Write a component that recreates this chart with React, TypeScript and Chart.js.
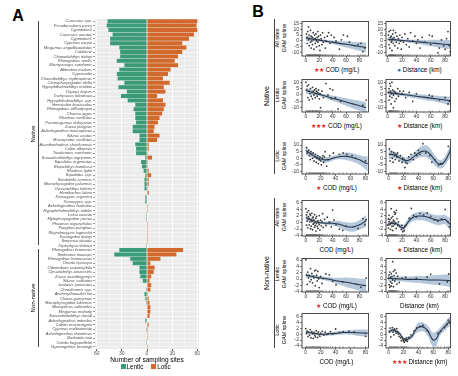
import React, { useEffect, useRef } from 'react';
import { Chart, registerables } from 'chart.js';

Chart.register(...registerables);

const FONT = "'Liberation Sans', Arial, Helvetica, sans-serif";
const GREEN = '#3b9a78';
const ORANGE = '#d2682b';
const BAND = '#b5c7db';
const STAR = '#e3231b';
const DOT = '#2a6fb8';

// ---------------- Panel A data ----------------
const nativeSpecies = [
  'Carassius spp.', 'Pseudorasbora parva', 'Cyprinidae2', 'Carassius auratus', 'Cyprinidae1',
  'Cyprinus carpio', 'Misgurnus anguillicaudatus', 'Cobitinae', 'Chanodichthys dabryi', 'Rhinogobius similis',
  'Micropercops swinhonis', 'Abbottina rivularis', 'Cyprinoidei', 'Chanodichthys erythropterus', 'Ctenopharyngodon idella',
  'Hypophthalmichthys molitrix', 'Oryzias latipes', 'Tachysurus fulvidraco', 'Hypophthalmichthys spp.', 'Hemiculter leucisculus',
  'Rhinogobius cliffordpopei', 'Channa argus', 'Rhodeus ocellatus', 'Paramisgurnus dabryanus', 'Zacco platypus',
  'Acheilognathus macropterus', 'Silurus asotus', 'Macropodus ocellatus', 'Acanthorhodeus chankaensis', 'Culter alburnus',
  'Toxabramis swinhonis', 'Sarcocheilichthys nigripinnis', 'Squalidus argentatus', 'Elopichthys bambusa', 'Rhodeus lighti',
  'Squalidus spp.', 'Sinobdella sinensis', 'Microphysogobio yaluensis', 'Opsariichthys bidens', 'Hemibarbus labeo',
  'Xenocypris argentea', 'Xenocypris spp.', 'Acheilognathus barbatus', 'Hypophthalmichthys nobilis', 'Lefua costata',
  'Mylopharyngodon piceus', 'Phoxinus oxycephalus', 'Pungitius pungitius', 'Rhynchocypris lagowskii', 'Saurogobio dabryi',
  'Siniperca chuatsi', 'Triplophysa dalaica',
];
const nativeLentic = [47, 48, 46, 41, 44, 44, 33, 32, 32, 36, 27, 33, 36, 35, 27, 34, 24, 31, 23, 14, 16, 14, 14, 13, 17, 17, 9, 9, 14, 13, 13, 2, 7, 6, 4, 2, 3, 3, 3, 0, 2, 2, 0, 0, 1, 1, 0, 0, 0, 0, 0, 1];
const nativeLotic = [60, 59, 60, 56, 50, 42, 47, 42, 37, 33, 37, 28, 25, 19, 27, 20, 22, 12, 19, 22, 20, 18, 15, 13, 9, 8, 15, 12, 2, 2, 1, 6, 1, 1, 2, 5, 2, 2, 1, 2, 0, 0, 1, 1, 0, 0, 1, 1, 1, 1, 1, 0];

const nonNativeSpecies = [
  'Rhinogobius brunneus', 'Sinibrama macrops', 'Rhinogobius formosanus', 'Onoda episcopa', 'Odontobutis potamophila',
  'Opsariichthys uncirostris', 'Zacco acanthogenys', 'Silurus soldatovi', 'Ictalurus punctatus', 'Oreochromis spp.',
  'Ancherythroculter lini', 'Clarias gariepinus', 'Microphysogobio fukiensis', 'Micropterus salmoides', 'Misgurnus mohoity',
  'Sarcocheilichthys davidi', 'Acheilognathus imberbis', 'Cobitis macrostigma', 'Cyprinus multitaeniata', 'Acheilognathus rhombeus',
  'Barbatula toni', 'Cobitis hugowolfeldi', 'Gymnogobius breunigii',
];
const nonNativeLentic = [33, 39, 20, 17, 9, 9, 8, 5, 0, 1, 3, 2, 1, 0, 0, 0, 2, 0, 1, 0, 0, 1, 0];
const nonNativeLotic = [43, 35, 16, 4, 9, 8, 5, 3, 5, 4, 1, 2, 3, 4, 4, 3, 0, 2, 1, 1, 1, 0, 1];

// ---------------- Panel B data ----------------
const grid90 = [0, 10, 20, 30, 40, 50, 60, 70, 80, 90];
const grid88 = [0, 10, 20, 30, 40, 50, 60, 70, 80, 88];

// Native, all sites, COD
const natAllCodPts = [[1,6],[2,3],[2,-2],[3,8],[4,12],[4,1],[5,-4],[5,5],[6,2],[7,-1],[7,9],[8,4],[8,-6],[9,0],[10,3],[10,-3],[11,7],[12,1],[12,-7],[13,5],[14,2],[14,-2],[15,6],[16,0],[16,-5],[17,3],[18,8],[18,-1],[19,4],[20,-4],[20,1],[21,-8],[22,5],[23,2],[24,-3],[25,7],[26,-1],[28,3],[29,-6],[30,0],[32,4],[34,7],[36,-2],[38,5],[40,-1],[42,3],[45,0],[50,-7],[53,1],[56,5],[62,4],[65,-1],[78,-3],[82,-2],[85,-9],[88,-6]];
const natAllCodFit = [2.5, 1.6, 0.7, -0.2, -1.1, -2.0, -2.8, -3.7, -4.6, -5.5];
const natAllCodLo = [0.3, -0.3, -0.5, -1.4, -2.6, -4.0, -5.4, -6.8, -8.3, -9.8];
const natAllCodHi = [4.7, 3.5, 1.9, 1.0, 0.4, 0.0, -0.3, -0.6, -0.9, -1.2];

// Native, all sites, Distance
const natAllDistPts = [[1,5],[2,-3],[2,8],[3,1],[3,-6],[4,3],[4,9],[5,-1],[5,4],[6,0],[6,-8],[7,6],[7,2],[8,-2],[8,9],[9,3],[10,-4],[10,1],[11,7],[12,-1],[13,4],[14,-6],[15,2],[16,-2],[17,5],[18,0],[19,-7],[20,3],[22,-1],[24,6],[26,-3],[28,2],[30,-5],[32,7],[35,0],[38,4],[40,-2],[42,1],[45,-6],[48,3],[52,-1],[58,5],[60,-3],[62,4],[66,-2],[70,-10],[72,-6],[75,1],[78,-4],[80,-7],[82,2],[84,8],[86,-4],[87,-9]];
const natAllDistFit = [1.5, 1.0, 0.4, -0.1, -0.7, -1.2, -1.7, -2.2, -2.8, -3.2];
const natAllDistLo = [-0.3, -0.4, -0.7, -1.4, -2.4, -3.4, -4.4, -5.4, -6.4, -7.2];
const natAllDistHi = [3.3, 2.4, 1.5, 1.2, 1.0, 1.0, 1.0, 1.0, 0.8, 0.8];

// Native, lentic, COD
const natLenCodPts = [[0,10],[1,4],[2,7],[3,-2],[4,8],[5,3],[5,-4],[6,1],[7,5],[8,-1],[9,2],[10,6],[10,-3],[11,3],[12,0],[13,4],[14,-2],[15,5],[15,1],[16,3],[17,-1],[18,2],[19,4],[20,-3],[21,1],[22,-10],[24,3],[26,-2],[30,9],[33,0],[36,5],[38,-3],[40,4],[44,-2],[48,-11],[52,-5],[85,-8],[90,-4]];
const natLenCodFit = [3.5, 2.0, 0.5, -1.0, -2.5, -4.0, -5.5, -7.0, -8.5, -10.0];
const natLenCodLo = [1.0, 0.2, -0.8, -2.5, -4.5, -6.5, -8.5, -10.5, -12.5, -14.5];
const natLenCodHi = [6.0, 3.8, 1.8, 0.5, -0.5, -1.5, -2.5, -3.5, -4.5, -5.5];

// Native, lentic, Distance
const natLenDistPts = [[1,2],[2,-4],[2,5],[3,9],[3,-1],[4,7],[4,3],[5,-7],[5,1],[6,10],[6,-2],[7,4],[8,0],[8,-10],[9,3],[10,-5],[11,2],[12,-3],[13,1],[14,5],[15,-1],[17,3],[20,1],[22,3],[25,-2],[30,2],[35,-5],[40,1],[58,0],[62,-1],[72,-4],[80,-2],[84,-7],[86,-5]];
const natLenDistFit = [2.0, 1.3, 0.5, -0.2, -1.0, -1.7, -2.5, -3.2, -4.0, -4.6];
const natLenDistLo = [0.0, -0.3, -0.8, -1.8, -2.8, -3.8, -4.8, -5.8, -7.0, -8.0];
const natLenDistHi = [4.0, 2.9, 1.8, 1.4, 0.8, 0.4, -0.2, -0.6, -1.0, -1.2];

// Native, lotic, COD
const natLotCodPts = [[1,8],[2,4],[4,6],[5,2],[6,-1],[7,5],[8,3],[9,0],[10,4],[11,-2],[12,1],[13,3],[14,-3],[15,0],[16,2],[17,-4],[18,-1],[19,1],[20,-2],[21,-5],[22,0],[23,2],[24,-3],[25,1],[26,5],[28,-6],[30,-1],[32,2],[37,4],[45,3],[50,4],[55,3],[62,2],[67,0],[80,-2]];
const natLotCodX = [0, 5, 10, 15, 20, 25, 30, 35, 40, 45, 50, 55, 60, 65, 70, 75, 80, 83];
const natLotCodFit = [6.0, 4.0, 2.2, 0.5, -0.6, -1.2, -1.0, -0.2, 0.6, 1.2, 1.5, 1.4, 1.0, 0.2, -0.8, -2.0, -3.5, -4.2];
const natLotCodLo = [2.5, 1.5, 0.3, -1.2, -2.5, -3.3, -3.0, -2.0, -1.0, -0.8, -1.0, -1.5, -2.0, -3.0, -4.3, -6.0, -8.5, -10.0];
const natLotCodHi = [9.5, 6.5, 4.1, 2.2, 1.3, 0.9, 1.0, 1.6, 2.2, 3.2, 4.0, 4.3, 4.0, 3.4, 2.7, 2.0, 1.5, 1.5];

// Native, lotic, Distance
const natLotDistPts = [[1,7],[2,-2],[3,3],[4,5],[5,0],[6,-3],[7,4],[8,2],[9,-1],[10,3],[11,1],[12,4],[14,-2],[16,2],[18,-3],[19,0],[21,-1],[22,-7],[23,-3],[25,-4],[27,1],[30,3],[33,-1],[35,4],[38,2],[40,6],[42,3],[46,11],[50,4],[55,2],[58,-3],[62,-1],[67,-5],[70,-4],[72,-4],[80,9]];
const natLotDistX = [0, 5, 10, 15, 20, 25, 30, 35, 40, 45, 50, 55, 60, 65, 70, 75, 80, 84];
const natLotDistFit = [3.0, 2.8, 2.0, 0.3, -1.3, -1.8, -0.5, 1.8, 3.8, 5.2, 5.3, 3.5, 0.0, -3.5, -4.6, -2.5, 2.5, 7.5];
const natLotDistLo = [-1.0, 0.0, -0.3, -1.8, -3.5, -4.3, -3.2, -1.2, 0.3, 1.0, 0.8, -1.0, -4.0, -7.0, -7.8, -5.8, -1.5, 2.0];
const natLotDistHi = [7.0, 5.6, 4.3, 2.4, 0.9, 0.7, 2.2, 4.8, 7.3, 9.4, 9.8, 8.0, 4.0, 0.0, -1.4, 0.8, 6.5, 13.0];

// Non-native, all sites, COD
const nnAllCodPts = [[0,4.2],[1,2.3],[1,-0.8],[2,3.1],[2,0.4],[3,1.2],[3,-1.6],[4,1.8],[4,3.6],[5,-0.7],[5,1.1],[6,2.6],[6,0.2],[7,-1.9],[7,2.2],[8,0.9],[8,-1.1],[9,0.3],[9,2.8],[10,-2.2],[10,1.4],[11,1.7],[11,-0.5],[12,-0.2],[12,0.8],[13,-1.4],[13,2.4],[14,-0.9],[14,0.1],[15,1.3],[15,-2.6],[16,-0.3],[16,1.9],[17,-1.2],[18,0.6],[18,-1.8],[19,0.0],[20,2.1],[20,-0.6],[21,-2.3],[22,0.7],[23,-1.0],[24,0.3],[25,2.7],[26,-1.5],[28,1.0],[30,-0.9],[32,1.6],[35,0.2],[38,-1.3],[40,3.8],[42,0.8],[45,-0.7],[50,-2.0],[55,-2.4],[60,-1.1],[78,-1.8],[85,1.2],[88,-0.6],[90,0.9]];
const nnAllCodFit = [1.5, 0.6, 0.0, -0.2, -0.2, -0.5, -1.2, -1.4, -0.7, 0.6];
const nnAllCodLo = [0.6, 0.1, -0.4, -0.7, -0.9, -1.5, -2.5, -2.8, -2.2, -1.2];
const nnAllCodHi = [2.4, 1.1, 0.4, 0.3, 0.5, 0.5, 0.1, 0.0, 0.8, 2.4];

// Non-native, all sites, Distance
const nnAllDistPts = [[0,-0.8],[1,1.1],[1,-1.7],[2,0.3],[2,2.2],[3,-0.6],[3,0.9],[4,-0.2],[4,-2.1],[5,4.2],[5,1.4],[6,-1.2],[6,0.1],[7,1.8],[7,-2.4],[8,0.7],[8,-1.0],[9,0.4],[9,3.2],[10,-0.5],[10,2.5],[11,-0.1],[11,2.9],[12,-1.8],[12,3.7],[13,1.2],[14,-0.9],[15,0.2],[17,-1.3],[19,-2.1],[20,-0.8],[21,-2.8],[22,-1.6],[23,-2.5],[24,-1.1],[26,-0.7],[30,1.3],[33,4.3],[36,2.2],[40,1.7],[45,2.8],[50,2.3],[55,2.9],[60,1.9],[65,0.8],[70,0.4],[75,1.1],[80,4.0],[84,0.2],[86,-1.3]];
const nnAllDistX = [0, 5, 10, 15, 20, 22, 25, 30, 35, 40, 45, 50, 55, 60, 65, 70, 75, 80, 85, 88];
const nnAllDistFit = [-0.5, -0.3, -0.2, -0.7, -1.6, -1.7, -0.9, 0.6, 1.5, 1.9, 2.0, 1.9, 1.7, 1.3, 1.0, 0.7, 0.8, 0.9, -0.1, -0.7];
const nnAllDistLo = [-1.2, -0.8, -0.7, -1.3, -2.4, -2.6, -1.8, -0.4, 0.4, 0.7, 0.7, 0.6, 0.3, -0.1, -0.5, -0.8, -0.6, -0.5, -1.8, -2.6];
const nnAllDistHi = [0.2, 0.2, 0.3, -0.1, -0.8, -0.8, 0.0, 1.6, 2.6, 3.1, 3.3, 3.3, 3.1, 2.7, 2.4, 2.2, 2.2, 2.3, 1.6, 1.2];

// Non-native, lentic, COD
const nnLenCodPts = [[0,6.1],[1,1.3],[2,-1.7],[3,2.2],[4,0.3],[5,1.1],[6,-0.8],[7,3.3],[8,-0.2],[9,1.8],[10,-1.2],[11,0.9],[12,0.4],[13,2.6],[14,-2.1],[15,2.8],[16,1.2],[17,-0.6],[18,2.4],[19,0.1],[20,-2.7],[22,0.8],[24,-1.4],[26,0.2],[30,1.6],[35,1.3],[40,-0.7],[45,-1.8],[55,-0.9],[82,-2.6],[90,0.3]];
const nnLenCodFit = [1.2, 0.8, 0.4, 0.1, -0.3, -0.7, -1.0, -1.4, -1.8, -2.1];
const nnLenCodLo = [0.4, 0.2, -0.1, -0.5, -1.1, -1.8, -2.5, -3.1, -3.7, -4.3];
const nnLenCodHi = [2.0, 1.4, 0.9, 0.7, 0.5, 0.4, 0.5, 0.3, 0.1, 0.1];

// Non-native, lentic, Distance
const nnLenDistPts = [[1,0.2],[2,-1.8],[2,1.3],[3,2.2],[3,-2.6],[4,0.5],[4,-0.9],[5,1.7],[5,-2.2],[6,0.8],[6,-1.3],[7,5.5],[7,-0.3],[8,-2.4],[8,2.4],[9,1.1],[10,-0.7],[10,2.9],[11,0.1],[12,1.9],[13,-1.6],[14,0.9],[16,-1.1],[20,0.3],[25,0.6],[40,0.2],[55,0.6],[60,1.5],[72,-1.5],[83,-0.9],[85,1.6]];
const nnLenDistFit = [0.2, 0.1, 0.0, -0.1, -0.1, -0.2, -0.3, -0.3, -0.4, -0.5];
const nnLenDistLo = [-0.6, -0.6, -0.8, -1.0, -1.2, -1.4, -1.7, -1.9, -2.2, -2.5];
const nnLenDistHi = [1.0, 0.8, 0.8, 0.8, 1.0, 1.0, 1.1, 1.3, 1.4, 1.5];

// Non-native, lotic, COD
const nnLotCodPts = [[0,1.9],[1,0.2],[2,1.1],[3,-0.8],[4,0.7],[5,-0.3],[6,1.6],[7,-1.2],[8,0.9],[9,0.1],[10,-1.4],[11,0.6],[12,-0.4],[13,-0.9],[14,1.2],[15,0.3],[16,-1.1],[17,0.8],[18,-0.2],[19,-0.7],[20,0.4],[22,1.0],[24,-0.3],[26,0.7],[28,-0.1],[30,0.2],[33,0.9],[36,0.1],[40,1.8],[45,0.6],[50,0.9],[58,1.1],[65,0.8],[80,-0.7]];
const nnLotCodX = [0, 10, 20, 30, 40, 50, 60, 70, 80, 83];
const nnLotCodFit = [0.8, 0.3, 0.0, 0.1, 0.3, 0.6, 0.6, 0.5, 0.4, 0.4];
const nnLotCodLo = [0.2, -0.1, -0.4, -0.4, -0.3, -0.1, -0.2, -0.6, -0.8, -0.9];
const nnLotCodHi = [1.4, 0.7, 0.4, 0.6, 0.9, 1.3, 1.4, 1.6, 1.6, 1.7];

// Non-native, lotic, Distance
const nnLotDistPts = [[1,0.8],[2,2.1],[3,-0.9],[4,1.3],[5,2.3],[6,0.7],[7,-0.2],[8,1.8],[9,1.2],[10,0.4],[11,1.9],[12,0.9],[13,0.1],[14,-0.7],[16,-1.2],[17,-2.2],[18,-1.0],[19,-1.8],[20,-2.3],[21,-2.7],[22,-1.6],[23,-2.1],[24,-1.2],[25,-2.4],[27,-1.1],[30,-0.2],[34,1.1],[38,2.2],[42,2.7],[46,3.1],[52,1.2],[66,0.3],[70,1.0],[75,2.3],[78,3.2],[80,4.8],[82,3.9]];
const nnLotDistX = [0, 2, 6, 10, 15, 19, 23, 27, 32, 36, 40, 45, 49, 53, 57, 60, 64, 68, 72, 76, 80, 83];
const nnLotDistFit = [1.0, 1.0, 1.5, 1.0, 0.2, -1.4, -2.0, -1.5, -0.5, 1.4, 2.4, 2.6, 2.1, 1.0, -1.0, -2.0, -1.5, 0.5, 1.8, 2.8, 4.0, 4.6];
const nnLotDistLo = [0.3, 0.4, 0.9, 0.4, -0.4, -2.0, -2.6, -2.2, -1.4, 0.2, 0.8, 1.0, 0.6, -0.8, -3.2, -4.5, -4.0, -1.0, 0.4, 1.4, 2.5, 2.8];
const nnLotDistHi = [1.7, 1.6, 2.1, 1.6, 0.8, -0.8, -1.4, -0.8, 0.4, 2.6, 4.0, 4.2, 3.6, 2.8, 1.2, 0.5, 1.0, 2.0, 3.2, 4.2, 5.5, 6.4];

// ---------------- layout ----------------
const COLS = [{ left: 302, width: 69 }, { left: 386, width: 67 }];
const ROWS = [
  { top: 19, h: 37, yMin: -12.7, yMax: 16.5, step: 5, label: 'All sites' },
  { top: 77, h: 35, yMin: -13.4, yMax: 12.2, step: 5, label: 'Lentic' },
  { top: 137, h: 37, yMin: -11.9, yMax: 14.2, step: 5, label: 'Lotic' },
  { top: 198, h: 38, yMin: -4.1, yMax: 6.7, step: 2, label: 'All sites' },
  { top: 256, h: 36, yMin: -4.1, yMax: 6.5, step: 2, label: 'Lentic' },
  { top: 311, h: 37, yMin: -4.7, yMax: 7.1, step: 2, label: 'Lotic' },
];
const XR = {
  codWide: [-5.7, 93.4], distWide: [-2.3, 87.5], codLotic: [-5, 84], distLotic: [-3.5, 83],
};

type Sub = {
  row: number; col: number; pts: number[][]; cx: number[]; fit: number[]; lo: number[]; hi: number[];
  xr: number[]; mark: string; markColor: string; title: string;
};

const SUBS: Sub[] = [
  { row: 0, col: 0, pts: natAllCodPts, cx: grid90, fit: natAllCodFit, lo: natAllCodLo, hi: natAllCodHi, xr: XR.codWide, mark: '★★', markColor: STAR, title: 'COD (mg/L)' },
  { row: 0, col: 1, pts: natAllDistPts, cx: grid88, fit: natAllDistFit, lo: natAllDistLo, hi: natAllDistHi, xr: XR.distWide, mark: '●', markColor: DOT, title: 'Distance (km)' },
  { row: 1, col: 0, pts: natLenCodPts, cx: grid90, fit: natLenCodFit, lo: natLenCodLo, hi: natLenCodHi, xr: XR.codWide, mark: '★★★', markColor: STAR, title: 'COD (mg/L)' },
  { row: 1, col: 1, pts: natLenDistPts, cx: grid88, fit: natLenDistFit, lo: natLenDistLo, hi: natLenDistHi, xr: XR.distWide, mark: '★', markColor: STAR, title: 'Distance (km)' },
  { row: 2, col: 0, pts: natLotCodPts, cx: natLotCodX, fit: natLotCodFit, lo: natLotCodLo, hi: natLotCodHi, xr: XR.codLotic, mark: '★', markColor: STAR, title: 'COD (mg/L)' },
  { row: 2, col: 1, pts: natLotDistPts, cx: natLotDistX, fit: natLotDistFit, lo: natLotDistLo, hi: natLotDistHi, xr: XR.distLotic, mark: '★', markColor: STAR, title: 'Distance (km)' },
  { row: 3, col: 0, pts: nnAllCodPts, cx: grid90, fit: nnAllCodFit, lo: nnAllCodLo, hi: nnAllCodHi, xr: XR.codWide, mark: '', markColor: STAR, title: 'COD (mg/L)' },
  { row: 3, col: 1, pts: nnAllDistPts, cx: nnAllDistX, fit: nnAllDistFit, lo: nnAllDistLo, hi: nnAllDistHi, xr: XR.distWide, mark: '★', markColor: STAR, title: 'Distance (km)' },
  { row: 4, col: 0, pts: nnLenCodPts, cx: grid90, fit: nnLenCodFit, lo: nnLenCodLo, hi: nnLenCodHi, xr: XR.codWide, mark: '★', markColor: STAR, title: 'COD (mg/L)' },
  { row: 4, col: 1, pts: nnLenDistPts, cx: grid88, fit: nnLenDistFit, lo: nnLenDistLo, hi: nnLenDistHi, xr: XR.distWide, mark: '', markColor: STAR, title: 'Distance (km)' },
  { row: 5, col: 0, pts: nnLotCodPts, cx: nnLotCodX, fit: nnLotCodFit, lo: nnLotCodLo, hi: nnLotCodHi, xr: XR.codLotic, mark: '', markColor: STAR, title: 'COD (mg/L)' },
  { row: 5, col: 1, pts: nnLotDistPts, cx: nnLotDistX, fit: nnLotDistFit, lo: nnLotDistLo, hi: nnLotDistHi, xr: XR.distLotic, mark: '★★★', markColor: STAR, title: 'Distance (km)' },
];

// ---------------- helpers ----------------
const panelBg = {
  id: 'panelBg',
  beforeDraw(chart: any) {
    const a = chart.chartArea;
    const ctx = chart.ctx;
    ctx.save();
    ctx.fillStyle = '#ebebeb';
    ctx.fillRect(a.left, a.top, a.right - a.left, a.bottom - a.top);
    ctx.restore();
  },
};

const boxBorder = {
  id: 'boxBorder',
  afterDraw(chart: any) {
    const a = chart.chartArea;
    const ctx = chart.ctx;
    ctx.save();
    ctx.strokeStyle = '#222';
    ctx.lineWidth = 0.8;
    ctx.strokeRect(a.left, a.top, a.right - a.left, a.bottom - a.top);
    ctx.restore();
  },
};

function Txt({ x, y, size, rotate, bold, italic, children, color }: any) {
  return (
    <div
      style={{
        position: 'absolute', left: x, top: y,
        transform: `translate(-50%, -50%)${rotate ? ' rotate(-90deg)' : ''}`,
        fontSize: size, fontFamily: FONT, fontWeight: bold ? 700 : 400,
        fontStyle: italic ? 'italic' : 'normal',
        whiteSpace: 'nowrap', lineHeight: 1, color: color || '#000',
      }}
    >
      {children}
    </div>
  );
}

function VLine({ x, y1, y2 }: any) {
  return <div style={{ position: 'absolute', left: x, top: y1, width: 1, height: y2 - y1, background: '#444' }} />;
}

// ---------------- Panel A ----------------
function BarPanel() {
  const ref = useRef<HTMLCanvasElement>(null);
  useEffect(() => {
    const labels = [...nativeSpecies, ...nonNativeSpecies];
    const lentic = [...nativeLentic, ...nonNativeLentic].map((v) => -v);
    const lotic = [...nativeLotic, ...nonNativeLotic];
    const isMajor = (v: number) => Math.abs(v % 30) < 1e-6;
    const chart = new Chart(ref.current as HTMLCanvasElement, {
      type: 'bar',
      data: {
        labels,
        datasets: [
          { label: 'Lentic', data: lentic, backgroundColor: GREEN, barPercentage: 0.9, categoryPercentage: 1 },
          { label: 'Lotic', data: lotic, backgroundColor: ORANGE, barPercentage: 0.9, categoryPercentage: 1 },
        ],
      },
      options: {
        indexAxis: 'y',
        responsive: false,
        animation: false,
        layout: { padding: { top: 19, right: 31, left: 0, bottom: 0 } },
        plugins: { legend: { display: false }, tooltip: { enabled: false } },
        scales: {
          x: {
            type: 'linear', stacked: true, min: -62, max: 62,
            afterFit: (s: any) => { s.height = 9; },
            ticks: {
              stepSize: 15, includeBounds: false, autoSkip: false, maxRotation: 0, padding: 0,
              color: '#4d4d4d', font: { size: 5, family: FONT },
              callback: (v: any) => (isMajor(Number(v)) ? String(Math.abs(Number(v))) : ''),
            },
            grid: {
              color: '#ffffff',
              lineWidth: (c: any) => (c.tick && isMajor(c.tick.value) ? 0.8 : 0.4),
              tickLength: 2,
              tickColor: (c: any) => (c.tick && isMajor(c.tick.value) ? '#333' : 'rgba(0,0,0,0)'),
            },
            border: { display: false },
          },
          y: {
            type: 'category', stacked: true,
            afterFit: (s: any) => { s.width = 95; },
            ticks: { autoSkip: false, padding: 1, color: '#4d4d4d', font: { size: 4, style: 'italic', family: FONT } },
            grid: { color: '#ffffff', lineWidth: 0.5, offset: false, tickLength: 2, tickColor: '#333' },
            border: { display: false },
          },
        },
      } as any,
      plugins: [panelBg],
    });
    return () => chart.destroy();
  }, []);
  return (
    <canvas ref={ref} width={230} height={358}
      style={{ position: 'absolute', left: 0, top: 0, width: 230, height: 358 }} />
  );
}

// ---------------- Panel B subplot ----------------
const YW = 13, XH = 9, PT = 2, PR = 2;

function GamPlot({ sub }: { sub: Sub }) {
  const ref = useRef<HTMLCanvasElement>(null);
  const col = COLS[sub.col];
  const row = ROWS[sub.row];
  const cw = col.width + YW + PR;
  const ch = row.h + PT + XH;
  useEffect(() => {
    const toXY = (ys: number[]) => sub.cx.map((x, i) => ({ x, y: ys[i] }));
    const chart = new Chart(ref.current as HTMLCanvasElement, {
      type: 'scatter',
      data: {
        datasets: [
          {
            data: sub.pts.map((p) => ({ x: p[0], y: p[1] })),
            pointRadius: 0.9, pointBackgroundColor: '#3a3a3a', pointBorderColor: '#3a3a3a', pointBorderWidth: 0,
            order: 0, clip: 0,
          },
          {
            type: 'line', data: toXY(sub.fit), borderColor: '#26344a', borderWidth: 1.1,
            pointRadius: 0, tension: 0.35, fill: false, order: 1, clip: 0,
          },
          {
            type: 'line', data: toXY(sub.hi), borderColor: 'rgba(0,0,0,0)', borderWidth: 0.01,
            pointRadius: 0, tension: 0.35, fill: '+1', backgroundColor: BAND, order: 2, clip: 0,
          },
          {
            type: 'line', data: toXY(sub.lo), borderColor: 'rgba(0,0,0,0)', borderWidth: 0.01,
            pointRadius: 0, tension: 0.35, fill: false, order: 3, clip: 0,
          },
          {
            data: sub.pts.map((p) => ({ x: p[0], y: row.yMin })),
            pointStyle: 'line', pointRotation: 90, pointRadius: 2,
            pointBorderColor: '#666', pointBorderWidth: 0.5, order: 4, clip: 0,
          },
        ],
      } as any,
      options: {
        responsive: false,
        animation: false,
        layout: { padding: { top: PT, right: PR, left: 0, bottom: 0 } },
        plugins: { legend: { display: false }, tooltip: { enabled: false } },
        scales: {
          x: {
            type: 'linear', min: sub.xr[0], max: sub.xr[1],
            afterFit: (s: any) => { s.height = XH; },
            ticks: { stepSize: 20, includeBounds: false, autoSkip: false, maxRotation: 0, padding: 0, color: '#333', font: { size: 5, family: FONT } },
            grid: { drawOnChartArea: false, drawTicks: true, tickLength: 2, tickColor: '#333', lineWidth: 0.6 },
            border: { display: false },
          },
          y: {
            type: 'linear', min: row.yMin, max: row.yMax,
            afterFit: (s: any) => { s.width = YW; },
            ticks: { stepSize: row.step, includeBounds: false, autoSkip: false, padding: 1, color: '#333', font: { size: 5, family: FONT } },
            grid: { drawOnChartArea: false, drawTicks: true, tickLength: 2, tickColor: '#333', lineWidth: 0.6 },
            border: { display: false },
          },
        },
      } as any,
      plugins: [boxBorder],
    });
    return () => chart.destroy();
  }, []);
  const cx = col.left + col.width / 2;
  const bottom = row.top + row.h;
  return (
    <>
      <canvas ref={ref} width={cw} height={ch}
        style={{ position: 'absolute', left: col.left - YW, top: row.top - PT, width: cw, height: ch }} />
      <Txt x={cx} y={bottom + 14} size={6.3}>
        {sub.mark ? <span style={{ color: sub.markColor }}>{sub.mark} </span> : null}
        {sub.title}
      </Txt>
    </>
  );
}

export default function App() {
  return (
    <div style={{ position: 'fixed', left: 0, top: 0, width: 458, height: 376, background: '#fff', overflow: 'hidden' }}>
      <Txt x={18} y={16} size={16} bold>A</Txt>
      <Txt x={258} y={12} size={16} bold>B</Txt>

      <BarPanel />
      <VLine x={38} y1={21} y2={245} />
      <VLine x={38} y1={249} y2={347} />
      <Txt x={33} y={134} size={6} rotate>Native</Txt>
      <Txt x={33} y={298} size={6} rotate>Non-native</Txt>
      <Txt x={147} y={360} size={6.5}>Number of sampling sites</Txt>
      <div style={{ position: 'absolute', left: 121, top: 364, width: 5, height: 5, background: GREEN }} />
      <Txt x={135} y={367} size={6.3}>Lentic</Txt>
      <div style={{ position: 'absolute', left: 151, top: 364, width: 5, height: 5, background: ORANGE }} />
      <Txt x={164} y={367} size={6.3}>Lotic</Txt>

      <VLine x={274} y1={19} y2={174} />
      <VLine x={274} y1={198} y2={348} />
      <Txt x={266} y={96} size={7} rotate>Native</Txt>
      <Txt x={266} y={273} size={7} rotate>Non-native</Txt>
      {ROWS.map((r, i) => (
        <React.Fragment key={'rl' + i}>
          <Txt x={278} y={r.top + r.h / 2} size={5.5} rotate>{r.label}</Txt>
          <Txt x={284.5} y={r.top + r.h / 2} size={5.5} rotate>GAM spline</Txt>
        </React.Fragment>
      ))}
      {SUBS.map((s, i) => <GamPlot key={i} sub={s} />)}
    </div>
  );
}
